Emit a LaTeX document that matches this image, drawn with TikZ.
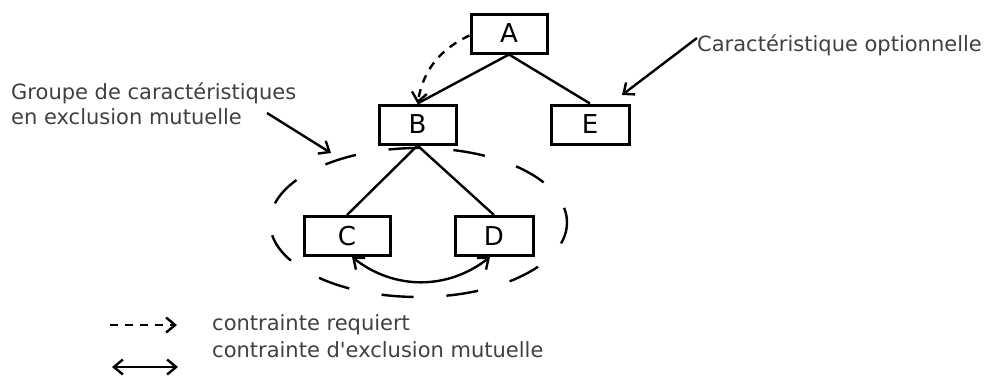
\documentclass[tikz,border=0pt]{standalone}
\usepackage{fontspec}
\setmainfont{DejaVu Sans}
\usepackage{tikz}
\usetikzlibrary{arrows.meta}
\tikzset{
  feature/.style={draw, line width=3pt, fill=white, minimum height=39pt, inner sep=0pt, font=\fontsize{26}{30}\selectfont},
  note/.style={text=black!75, inner sep=0pt, font=\fontsize{21}{25}\selectfont},
  link/.style={line width=2.4pt},
  barb/.style={line width=2.4pt, >={Straight Barb[length=9pt,width=15pt]}},
  requires/.style={barb, dash pattern=on 8pt off 7pt, ->},
  excludes/.style={barb, <->}
}

\begin{document}
\begin{tikzpicture}[x=1pt,y=-1pt]
\useasboundingbox (0,0) rectangle (989,376);
%the group of mutually exclusive features
\draw[line width=2.4pt, dash pattern=on 32pt off 33pt, dash phase=10pt] (418.5,222.5) ellipse [x radius=148.5, y radius=74.5];

\node[feature, minimum width=76pt] (A) at (509,33.5) {A};
\node[feature, minimum width=77pt] (B) at (417.5,124.5) {B};
\node[feature, minimum width=78pt] (E) at (590,124.5) {E};
\node[feature, minimum width=86pt] (C) at (347,236) {C};
\node[feature, minimum width=78pt] (D) at (494,236) {D};

\draw[link] (A.south) -- (B.north);
\draw[link] (A.south) -- (E.north);
\draw[link] (B.south) -- (C.north);
\draw[link] (B.south) -- (D.north);

\draw[requires] ([yshift=-2pt]A.west) to[out=205, in=80] (B.north);
\draw[excludes] ([xshift=5pt]C.south) to[bend right=38] ([xshift=-4pt]D.south);

%annotations
\node[note, anchor=west, align=left] (group) at (11,103.5) {Groupe de caractéristiques\\en exclusion mutuelle};
\coordinate (groupfrom) at (267,113);
\coordinate (groupto) at (331,153);
\draw[barb, ->] (groupfrom) -- (groupto);

\node[note, anchor=west] (option) at (697,45) {Caractéristique optionnelle};
\coordinate (optionto) at (622,95);
\draw[barb, ->] ([yshift=7pt]option.west) -- (optionto);

%legend
\coordinate (req1) at (110,325);
\coordinate (req2) at (177,325);
\coordinate (exc1) at (112,367);
\coordinate (exc2) at (178,367);
\draw[requires] (req1) -- (req2);
\draw[excludes] (exc1) -- (exc2);
\node[note, anchor=west] (reqtext) at (212,325) {contrainte requiert};
\node[note, anchor=west] (exctext) at (212,350) {contrainte d\textquotesingle exclusion mutuelle};
\end{tikzpicture}
\end{document}
